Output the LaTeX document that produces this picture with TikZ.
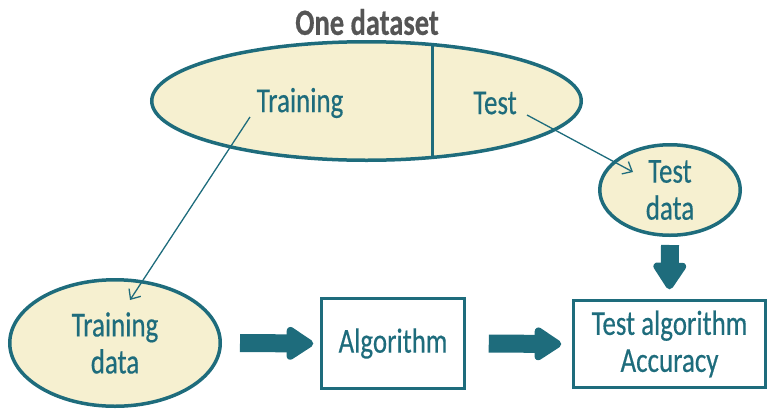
\documentclass[tikz,border=0pt]{standalone}
\usepackage{fontspec}
\setmainfont{Carlito}[FakeStretch=0.77, FakeBold=0.4]
\usetikzlibrary{arrows.meta,shapes.geometric}

\begin{document}
\begin{tikzpicture}[x=1pt, y=-1pt, >=Stealth, font=\fontsize{35}{37}\selectfont]
	\definecolor{tealline}{RGB}{30,108,124}
	\definecolor{creamfill}{RGB}{246,240,208}
	\definecolor{titlegray}{RGB}{85,85,85}
	\tikzset{
		blob/.style={ellipse, draw=tealline, line width=3.5pt, fill=creamfill, text=tealline, inner sep=0pt, align=center},
		stepbox/.style={rectangle, draw=tealline, line width=2.5pt, text=tealline, align=center, inner sep=0pt},
		parttext/.style={text=tealline, inner sep=0pt},
		thinarrow/.style={-{Straight Barb[length=8pt, width=14pt]}, tealline, line width=1.3pt},
		fatarrow/.style={-{Triangle[width=37pt, length=30pt, round]}, tealline, line width=18pt},
	}
	\useasboundingbox (0,0) rectangle (767,410);
	% dataset split
	\node[blob, minimum width=429.5pt, minimum height=118.5pt] (dataset) at (366.5,101) {};
	\begin{scope}
		\clip (366.5,101) ellipse [x radius=214.75, y radius=59.25];
		\draw[tealline, line width=3pt] (432,30) coordinate (cuttop) -- (432,172) coordinate (cutbot);
	\end{scope}
	\node[font=\fontsize{37}{40}\selectfont\bfseries, text=titlegray] (title) at (367,22) {One dataset};
	\node[parttext] (trpart) at (300,103) {Training};
	\node[parttext] (tepart) at (495,103) {Test};
	% pieces
	\node[blob, minimum width=210.5pt, minimum height=126.5pt] (trdata) at (115,343) {Training\\data};
	\node[blob, minimum width=140.5pt, minimum height=90.5pt] (tedata) at (670,190) {Test\\data};
	\node[stepbox, minimum width=143pt, minimum height=90pt] (algo) at (393,343.5) {Algorithm};
	\node[stepbox, minimum width=192pt, minimum height=87pt] (testalgo) at (669.5,344) {Test algorithm\\Accuracy};
	% connectors
	\coordinate (trfrom) at (250,117);
	\coordinate (trto) at (130,300);
	\coordinate (tefrom) at (527,115);
	\coordinate (teto) at (633,172);
	\draw[thinarrow] (trfrom) -- (trto);
	\draw[thinarrow] (tefrom) -- (teto);
	\draw[fatarrow] ([xshift=18pt]trdata.east) -- ([xshift=-7pt]algo.west);
	\draw[fatarrow] ([xshift=23pt]algo.east) -- ([xshift=-11pt]testalgo.west);
	\draw[fatarrow] ([yshift=-8pt]tedata.south) -- ([yshift=10pt]testalgo.north);
\end{tikzpicture}
\end{document}
